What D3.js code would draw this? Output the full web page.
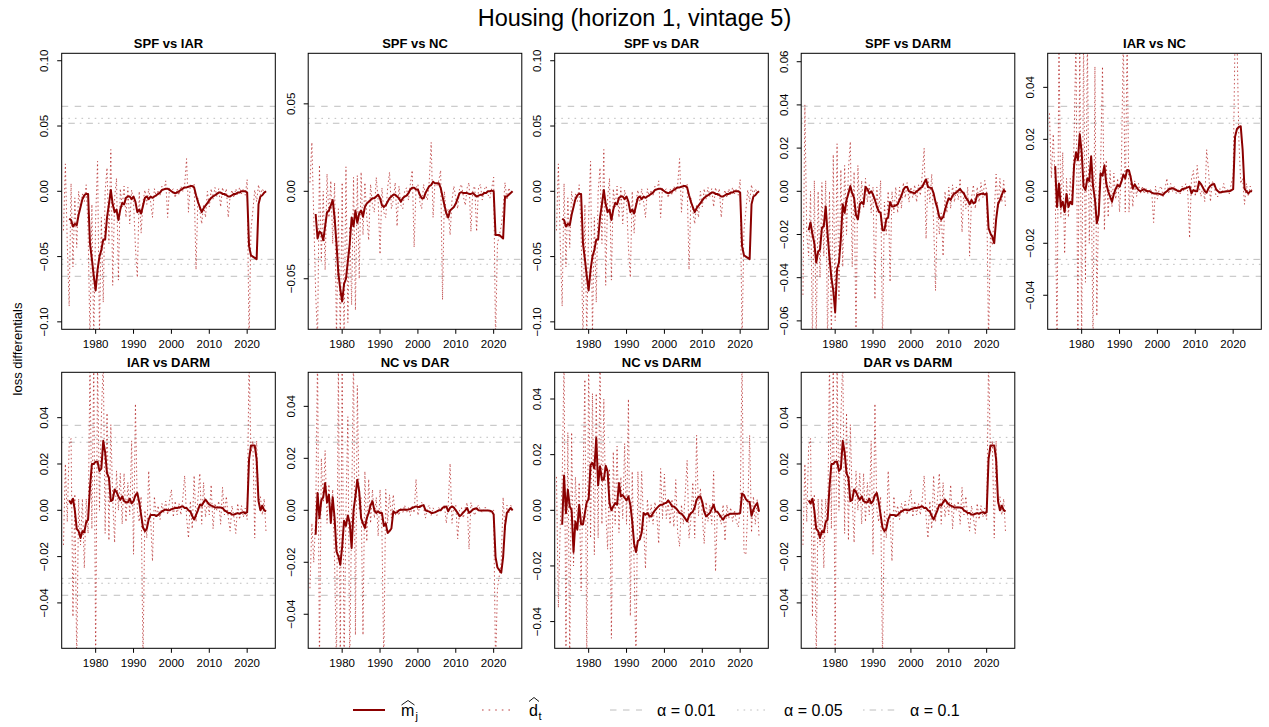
<!DOCTYPE html>
<html><head><meta charset="utf-8">
<script src="https://cdn.jsdelivr.net/npm/d3@7"></script>
<style>
body{margin:0;background:#fff}
svg{display:block;font-family:"Liberation Sans",Arial,Helvetica,sans-serif}
</style>
</head><body>
<svg id="c" width="1269" height="727"></svg>
<script>
// ---------------- DATA ----------------
const chartTitle = "Housing (horizon 1, vintage 5)";
const yLabel = "loss differentials";
const panelTitles = ["SPF vs IAR","SPF vs NC","SPF vs DAR","SPF vs DARM","IAR vs NC","IAR vs DARM","NC vs DAR","NC vs DARM","DAR vs DARM"];
// semiannual observation dates
const dates = d3.range(1971.5, 2025.01, 0.5);
const xTicks = [1980,1990,2000,2010,2020];
const xlim = [1971.03, 2027.43];
// symmetric y-limits (upper bound) per panel
const ylims = [0.1057,0.0789,0.1057,0.0639,0.0531,0.0596,0.0531,0.0496,0.0596];
const yTicks = [
  [-0.10,-0.05,0,0.05,0.10],
  [-0.05,0,0.05],
  [-0.10,-0.05,0,0.05,0.10],
  [-0.06,-0.04,-0.02,0,0.02,0.04,0.06],
  [-0.04,-0.02,0,0.02,0.04],
  [-0.04,-0.02,0,0.02,0.04],
  [-0.04,-0.02,0,0.02,0.04],
  [-0.04,-0.02,0,0.02,0.04],
  [-0.04,-0.02,0,0.02,0.04]
];
// critical values (alpha = 0.01, 0.05, 0.1)
const crit01 = [0.0651,0.0486,0.0651,0.0394,0.0327,0.0367,0.0327,0.0306,0.0367];
const crit05 = [0.0559,0.0417,0.0559,0.0338,0.0281,0.0315,0.0281,0.0262,0.0315];
const crit10 = [0.0521,0.0389,0.0521,0.0315,0.0262,0.0294,0.0262,0.0245,0.0294];

const d_SPF_IAR = [-0.030,0.021,-0.040,-0.088,0.006,-0.058,-0.005,-0.043,0.000,-0.012,
 -0.002,-0.008,0.005,-0.030,-0.115,-0.010,-0.115,-0.020,0.023,-0.110,
 -0.020,-0.085,0.000,0.018,-0.040,0.032,-0.072,-0.005,0.010,-0.068,
 0.002,-0.012,0.004,-0.020,0.003,-0.025,0.001,-0.008,-0.043,-0.066,
 0.000,-0.032,-0.008,0.001,-0.010,0.002,-0.008,-0.020,0.002,-0.004,
 0.001,-0.003,0.004,0.000,0.008,-0.020,0.003,0.000,0.002,-0.005,
 0.002,-0.003,0.004,0.000,0.005,0.025,-0.016,0.005,0.003,0.006,
 -0.060,-0.005,-0.015,-0.025,-0.010,-0.020,0.000,-0.012,0.002,-0.006,
 0.003,-0.004,0.002,-0.012,0.003,-0.004,0.002,-0.020,-0.004,0.001,
 -0.005,0.002,-0.003,0.003,-0.002,0.002,-0.003,0.009,-0.115,-0.030,
 -0.015,0.001,-0.008,0.005,-0.003,0.002,-0.001,0.000];
const m_SPF_IAR = [null,null,null,-0.021,-0.022,-0.027,-0.025,-0.026,-0.018,-0.012,
 -0.006,-0.003,-0.002,-0.002,-0.040,-0.052,-0.065,-0.076,-0.060,-0.050,
 -0.045,-0.037,-0.037,-0.020,-0.010,0.001,-0.010,-0.016,-0.014,-0.022,
 -0.014,-0.009,-0.010,-0.005,-0.004,-0.004,-0.006,-0.004,-0.008,-0.016,
 -0.014,-0.017,-0.011,-0.005,-0.004,-0.006,-0.004,-0.005,-0.004,-0.003,
 -0.002,-0.001,0.001,0.0015,0.002,0.002,0.001,0.000,-0.001,-0.0015,
 -0.001,0.000,0.001,0.002,0.003,0.003,0.0035,0.004,0.004,0.003,
 -0.003,-0.008,-0.012,-0.016,-0.013,-0.011,-0.009,-0.007,-0.005,-0.004,
 -0.003,-0.002,-0.001,-0.001,-0.002,-0.002,-0.003,-0.004,-0.004,-0.003,
 -0.002,-0.002,-0.001,-0.001,0.000,0.000,0.000,-0.001,-0.042,-0.049,
 -0.050,-0.051,-0.052,-0.010,-0.004,-0.003,-0.001,0.000];

const d_SPF_NC = [0.005,0.028,-0.015,-0.058,-0.085,0.015,-0.040,0.000,-0.045,0.010,
 -0.015,0.006,-0.030,0.005,-0.085,-0.010,-0.085,0.005,-0.085,0.014,
 -0.075,-0.020,-0.065,0.008,-0.068,0.009,-0.050,0.011,-0.025,0.005,
 -0.015,-0.028,0.004,-0.008,-0.012,0.008,-0.005,-0.036,0.002,-0.012,
 -0.015,0.002,0.011,-0.010,-0.005,0.005,-0.020,0.003,-0.008,-0.010,
 0.000,0.002,-0.005,0.004,0.012,-0.032,0.002,0.004,-0.006,-0.010,
 0.004,-0.002,-0.005,0.006,0.028,-0.015,0.005,0.003,0.006,0.012,
 -0.062,0.000,-0.015,-0.010,-0.025,-0.005,0.003,-0.004,-0.010,0.002,
 0.004,-0.003,-0.008,0.002,0.005,-0.023,0.001,0.003,-0.023,0.002,
 0.004,-0.005,0.001,0.003,-0.002,-0.004,0.002,0.008,-0.085,-0.030,
 -0.025,-0.020,-0.010,0.005,-0.005,0.002,-0.001,0.000];
const m_SPF_NC = [null,null,null,-0.013,-0.027,-0.023,-0.024,-0.028,-0.020,-0.012,
 -0.011,-0.008,-0.005,-0.015,-0.030,-0.047,-0.056,-0.063,-0.053,-0.050,
 -0.040,-0.030,-0.015,-0.020,-0.011,-0.018,-0.0126,-0.011,-0.0145,-0.009,
 -0.007,-0.006,-0.005,-0.004,-0.004,-0.003,-0.002,-0.004,-0.008,-0.009,
 -0.008,-0.006,-0.004,-0.003,-0.002,-0.002,-0.003,-0.004,-0.006,-0.004,
 -0.003,-0.0025,-0.001,0.001,0.002,0.002,0.001,0.001,-0.002,-0.004,
 -0.004,-0.001,0.001,0.003,0.0036,0.0055,0.0046,0.0046,0.0046,0.002,
 -0.003,-0.008,-0.0126,-0.015,-0.011,-0.010,-0.009,-0.007,-0.004,-0.001,
 -0.0005,-0.001,-0.001,-0.001,-0.0015,-0.0015,-0.001,-0.002,-0.003,-0.0025,
 -0.002,-0.002,-0.001,-0.001,0.000,0.000,0.0004,0.000,-0.025,-0.025,
 -0.025,-0.026,-0.027,-0.003,-0.003,-0.002,-0.001,0.000];

const d_SPF_DAR = [-0.030,0.021,-0.040,-0.088,0.006,-0.058,-0.005,-0.043,0.000,-0.012,
 -0.002,-0.008,0.005,-0.030,-0.115,-0.010,-0.115,-0.020,0.023,-0.110,
 -0.020,-0.085,0.000,0.018,-0.040,0.032,-0.072,-0.005,0.010,-0.068,
 0.002,-0.012,0.004,-0.020,0.003,-0.025,0.001,-0.008,-0.043,-0.066,
 0.000,-0.032,-0.008,0.001,-0.010,0.002,-0.008,-0.020,0.002,-0.004,
 0.001,-0.003,0.004,0.000,0.008,-0.020,0.003,0.000,0.002,-0.005,
 0.002,-0.003,0.004,0.000,0.005,0.025,-0.016,0.005,0.003,0.006,
 -0.060,-0.005,-0.015,-0.025,-0.010,-0.020,0.000,-0.012,0.002,-0.006,
 0.003,-0.004,0.002,-0.012,0.003,-0.004,0.002,-0.020,-0.004,0.001,
 -0.005,0.002,-0.003,0.003,-0.002,0.002,-0.003,0.009,-0.115,-0.030,
 -0.015,0.001,-0.008,0.005,-0.003,0.002,-0.001,0.000];
const m_SPF_DAR = [null,null,null,-0.021,-0.022,-0.027,-0.025,-0.026,-0.018,-0.012,
 -0.006,-0.003,-0.002,-0.002,-0.040,-0.052,-0.065,-0.076,-0.060,-0.050,
 -0.045,-0.037,-0.037,-0.020,-0.010,0.001,-0.010,-0.016,-0.014,-0.022,
 -0.014,-0.009,-0.010,-0.005,-0.004,-0.004,-0.006,-0.004,-0.008,-0.016,
 -0.014,-0.017,-0.011,-0.005,-0.004,-0.006,-0.004,-0.005,-0.004,-0.003,
 -0.002,-0.001,0.001,0.0015,0.002,0.002,0.001,0.000,-0.001,-0.0015,
 -0.001,0.000,0.001,0.002,0.003,0.003,0.0035,0.004,0.004,0.003,
 -0.003,-0.008,-0.012,-0.016,-0.013,-0.011,-0.009,-0.007,-0.005,-0.004,
 -0.003,-0.002,-0.001,-0.001,-0.002,-0.002,-0.003,-0.004,-0.004,-0.003,
 -0.002,-0.002,-0.001,-0.001,0.000,0.000,0.000,-0.001,-0.042,-0.049,
 -0.050,-0.051,-0.052,-0.010,-0.004,-0.003,-0.001,0.000];

const d_SPF_DARM = [-0.048,0.040,-0.020,-0.030,0.000,-0.070,0.005,-0.070,0.000,-0.040,
 0.004,-0.030,0.005,-0.070,0.000,-0.070,0.017,-0.060,0.022,-0.050,
 0.010,-0.035,0.012,-0.020,0.010,0.023,-0.035,0.009,-0.070,0.012,
 -0.010,0.005,-0.008,0.006,-0.005,0.003,-0.010,0.002,-0.050,0.002,
 -0.010,0.005,-0.070,-0.005,-0.020,0.000,-0.042,0.000,-0.010,0.002,
 -0.010,0.002,-0.008,0.004,-0.003,0.004,-0.005,0.002,-0.003,0.003,
 -0.005,0.003,-0.002,0.008,0.020,-0.022,0.006,-0.005,0.008,-0.015,
 -0.046,-0.005,-0.020,-0.010,-0.030,0.000,-0.010,0.002,-0.008,0.003,
 -0.005,0.002,-0.004,0.006,-0.019,0.000,-0.008,0.002,-0.030,-0.003,
 0.003,-0.008,0.002,-0.005,0.004,-0.003,0.005,0.000,-0.070,-0.020,
 -0.025,-0.010,0.008,-0.008,0.006,-0.005,0.005,-0.008];
const m_SPF_DARM = [null,null,null,-0.018,-0.0144,-0.020,-0.024,-0.033,-0.028,-0.027,
 -0.017,-0.016,-0.007,-0.020,-0.031,-0.040,-0.046,-0.056,-0.036,-0.033,
 -0.022,-0.006,-0.010,-0.004,-0.001,0.0025,-0.001,-0.003,-0.011,-0.013,
 -0.006,-0.005,-0.006,0.002,0.001,-0.001,0.000,-0.0015,-0.004,-0.007,
 -0.0094,-0.010,-0.018,-0.018,-0.013,-0.012,-0.005,-0.007,-0.007,-0.0065,
 -0.006,-0.004,-0.002,0.0006,0.002,0.002,0.000,-0.0003,-0.0006,-0.001,
 0.000,0.0006,0.0015,0.002,0.004,0.0055,0.002,0.0017,0.0014,-0.001,
 -0.005,-0.008,-0.012,-0.013,-0.012,-0.0087,-0.0056,-0.0032,-0.004,-0.002,
 -0.001,-0.0006,0.0003,0.001,-0.0002,-0.001,-0.003,-0.004,-0.006,-0.004,
 -0.0056,-0.005,-0.0017,-0.0015,-0.0012,-0.001,-0.0015,-0.001,-0.017,-0.0195,
 -0.021,-0.024,-0.013,-0.006,-0.004,-0.0017,0.0006,-0.0004];

const d_IAR_NC = [0.030,0.005,0.022,0.004,-0.060,0.060,-0.010,0.015,-0.024,0.005,
 -0.010,0.005,-0.005,0.020,0.060,-0.060,0.060,-0.060,0.060,-0.035,
 0.060,-0.020,0.010,-0.060,0.048,-0.048,0.000,0.010,0.048,-0.015,
 0.012,-0.010,0.008,-0.006,0.007,-0.003,0.005,-0.008,0.010,0.060,
 -0.008,0.060,-0.008,0.006,-0.006,0.004,-0.002,0.003,-0.001,0.002,
 -0.001,0.001,-0.001,0.001,0.000,-0.012,0.002,-0.003,0.001,0.002,
 -0.002,0.001,0.005,-0.001,0.003,0.000,0.002,-0.001,0.001,-0.001,
 0.002,0.000,0.003,0.000,-0.018,0.005,0.008,-0.002,0.010,0.002,
 -0.002,0.002,-0.004,0.016,0.008,-0.004,0.004,0.002,-0.002,-0.002,
 0.001,-0.001,0.003,0.000,0.001,-0.001,0.003,0.006,0.060,0.060,
 0.020,0.003,0.005,-0.005,0.003,-0.002,0.002,0.000];
const m_IAR_NC = [null,null,null,0.0097,-0.006,0.003,-0.006,-0.004,-0.008,-0.001,
 -0.006,-0.004,-0.005,0.010,0.015,0.012,0.022,0.015,0.0018,0.0005,
 0.005,0.004,0.0135,0.002,-0.003,-0.0123,-0.009,0.0069,0.006,0.010,
 0.003,0.000,-0.002,-0.004,-0.001,0.001,0.0024,0.0018,0.0037,0.0065,
 0.005,0.0082,0.008,0.005,0.001,0.0027,0.0015,0.0005,0.000,0.0005,
 0.0008,0.0002,0.000,0.000,-0.0005,-0.0008,-0.0008,-0.0008,-0.001,-0.0012,
 -0.0014,-0.0005,0.000,0.0008,0.001,0.0012,0.0008,0.0005,0.000,0.000,
 0.0008,0.001,0.0012,0.0015,0.0018,-0.0008,0.0005,0.000,0.000,0.0037,
 0.0028,0.0015,0.000,-0.0005,0.0012,0.0022,0.0026,0.0028,0.0008,0.000,
 -0.0005,-0.0003,-0.0002,-0.0001,0.000,0.000,0.0004,0.0008,0.021,0.024,
 0.0248,0.025,0.016,0.001,-0.0001,-0.0008,0.000,0.000];

const d_IAR_DARM = [-0.015,0.020,-0.005,0.028,0.031,-0.046,0.007,-0.065,0.005,-0.015,
 0.005,-0.025,0.005,-0.010,0.065,-0.008,0.065,-0.065,0.065,0.000,
 0.040,0.065,-0.010,0.042,-0.013,0.037,0.005,-0.014,0.017,0.000,
 0.016,-0.006,0.016,-0.005,0.012,-0.002,0.030,-0.019,0.046,0.000,
 -0.005,0.006,-0.065,0.000,-0.012,0.017,-0.003,-0.022,0.006,-0.003,
 0.002,-0.004,0.003,-0.001,0.004,-0.002,0.004,0.009,-0.003,0.004,
 -0.002,0.003,-0.002,0.005,0.015,-0.003,-0.012,0.004,-0.008,0.015,
 -0.005,0.005,0.016,-0.006,0.012,-0.003,0.004,-0.002,0.011,-0.008,
 0.003,0.000,0.004,-0.006,0.010,-0.002,0.006,-0.003,-0.009,0.002,
 -0.003,-0.010,0.003,-0.004,0.002,-0.003,0.001,-0.004,0.065,0.025,
 0.030,-0.012,0.030,0.003,0.006,-0.002,0.005,-0.010];
const m_IAR_DARM = [null,null,null,0.0043,0.003,0.005,0.000,-0.008,-0.009,-0.012,
 -0.009,-0.0095,-0.005,-0.004,0.010,0.020,0.020,0.021,0.021,0.017,
 0.018,0.030,0.025,0.016,0.014,0.004,0.0045,0.009,0.008,0.006,
 0.0045,0.006,0.004,0.0035,0.0035,0.005,0.003,0.004,0.0065,0.0075,
 0.0035,-0.002,-0.0075,-0.009,-0.008,-0.004,-0.002,-0.002,-0.002,-0.0025,
 -0.002,-0.0012,-0.0005,0.000,0.0003,0.000,0.000,0.0005,0.0007,0.001,
 0.001,0.0012,0.0015,0.0017,0.001,0.001,0.000,-0.0005,-0.0025,-0.004,
 -0.002,0.000,0.0024,0.002,0.0035,0.0046,0.0035,0.0025,0.002,0.0017,
 0.0012,0.0012,0.0012,0.0012,0.001,0.000,-0.0005,-0.0012,-0.0012,-0.0018,
 -0.0019,-0.0015,-0.0012,-0.0015,-0.001,-0.0008,-0.0014,-0.0008,0.022,0.028,
 0.028,0.028,0.022,0.004,0.000,0.002,0.000,-0.0005];

const d_NC_DAR = [-0.030,-0.005,-0.020,-0.003,0.060,-0.060,0.020,0.003,0.023,-0.005,
 0.010,-0.003,0.008,-0.020,-0.060,0.060,-0.060,0.060,-0.060,0.000,
 0.036,-0.060,0.000,0.060,-0.048,0.048,0.000,0.005,-0.048,0.015,
 -0.012,0.012,-0.005,0.008,-0.003,0.005,-0.010,0.008,-0.008,-0.060,
 0.008,-0.005,0.006,-0.003,0.006,-0.002,0.000,-0.002,0.001,-0.001,
 0.002,-0.001,0.001,-0.002,0.002,-0.001,0.012,-0.002,0.002,0.003,
 0.001,-0.003,0.001,0.002,-0.002,0.001,-0.001,-0.002,0.001,0.000,
 0.001,0.002,-0.005,0.002,0.018,-0.005,0.002,0.002,-0.011,0.000,
 0.001,-0.003,0.001,0.003,-0.015,0.003,0.000,-0.002,0.001,0.002,
 0.000,-0.001,0.001,0.001,0.000,-0.001,0.000,0.000,-0.060,-0.030,
 -0.025,-0.020,0.005,-0.008,0.002,-0.001,0.002,0.000];
const m_NC_DAR = [null,null,null,-0.0094,0.0067,-0.003,0.004,0.005,0.0105,0.003,
 0.006,-0.0049,0.005,-0.003,-0.0158,-0.0177,-0.021,-0.014,-0.004,-0.006,
 -0.002,-0.005,-0.0145,0.000,0.0054,0.0118,0.0073,-0.003,-0.005,-0.0068,
 -0.003,-0.001,0.002,0.0035,0.000,-0.001,-0.0004,-0.001,-0.001,-0.006,
 -0.005,-0.0087,-0.008,-0.007,-0.0004,-0.001,-0.0008,0.000,0.0002,0.0002,
 0.0003,0.0002,0.0003,0.0005,0.0009,0.0012,0.0015,0.0013,0.0013,0.0018,
 0.002,0.000,-0.0003,-0.0005,-0.001,-0.001,-0.0008,-0.0004,0.000,0.000,
 0.0009,0.0013,0.0015,-0.0004,0.001,0.0015,0.001,0.000,-0.001,-0.0023,
 -0.0017,-0.0008,0.000,0.0009,-0.001,-0.0005,0.0003,0.0006,0.0008,0.000,
 -0.0001,-0.0001,-0.0001,-0.0001,-0.0001,-0.0002,-0.0004,-0.0016,-0.018,-0.022,
 -0.023,-0.024,-0.018,-0.006,-0.001,0.000,0.0009,0.000];

const d_NC_DARM = [0.012,-0.035,-0.005,0.010,0.055,-0.055,0.028,-0.055,0.028,-0.020,
 0.012,-0.005,0.010,-0.029,0.010,0.047,-0.055,0.055,-0.010,0.042,
 -0.016,0.042,-0.010,0.055,-0.005,0.040,0.000,-0.014,0.015,-0.046,
 0.021,-0.005,0.023,-0.008,0.012,-0.003,0.024,-0.005,0.040,-0.038,
 0.014,-0.020,-0.055,0.014,-0.010,0.014,-0.005,-0.021,0.004,-0.004,
 0.002,-0.005,0.003,-0.002,-0.012,0.015,-0.003,0.013,-0.003,0.003,
 -0.005,0.004,-0.006,0.011,-0.008,-0.013,0.002,-0.005,0.006,0.018,
 -0.010,-0.003,0.010,-0.010,0.027,-0.002,0.008,-0.002,-0.012,0.003,
 -0.004,0.002,-0.005,0.014,-0.022,0.000,-0.002,-0.005,0.002,-0.011,
 0.002,-0.003,0.001,-0.004,0.000,-0.004,-0.006,0.000,0.055,-0.015,
 -0.016,0.000,0.027,-0.008,0.005,-0.005,0.004,-0.010];
const m_NC_DARM = [null,null,null,-0.0052,0.0125,-0.001,0.0074,0.0014,0.000,-0.015,
 -0.004,-0.007,0.002,-0.005,-0.005,-0.001,0.003,0.004,0.0164,0.017,
 0.015,0.026,0.009,0.0158,0.011,0.011,0.016,0.014,0.0026,0.000,
 0.0014,0.0026,0.002,0.0098,0.005,0.0055,0.0045,0.0035,0.005,0.002,
 -0.004,-0.012,-0.015,-0.011,-0.0105,-0.008,-0.001,-0.0016,-0.001,-0.002,
 -0.0022,-0.001,0.000,0.0008,0.0015,0.002,0.002,0.0025,0.0027,0.0036,
 0.0027,0.0014,0.0014,0.0008,0.000,-0.001,-0.0012,-0.002,-0.003,-0.004,
 -0.002,-0.001,-0.0005,0.001,0.0038,0.0048,0.005,0.003,-0.0005,-0.0022,
 -0.0016,-0.001,0.0005,0.002,-0.0004,-0.0005,-0.0015,-0.0025,-0.0034,-0.0022,
 -0.0018,-0.0015,-0.0012,-0.0012,-0.0012,-0.0012,-0.0012,-0.001,0.006,0.0055,
 0.004,0.0032,0.003,-0.002,0.0002,0.0017,0.0026,-0.0005];

const d_DAR_DARM = [-0.015,0.020,-0.005,0.028,0.031,-0.046,0.007,-0.065,0.005,-0.015,
 0.005,-0.025,0.005,-0.010,0.065,-0.008,0.065,-0.065,0.065,0.000,
 0.040,0.065,-0.010,0.042,-0.013,0.037,0.005,-0.014,0.017,0.000,
 0.016,-0.006,0.016,-0.005,0.012,-0.002,0.030,-0.019,0.046,0.000,
 -0.005,0.006,-0.065,0.000,-0.012,0.017,-0.003,-0.022,0.006,-0.003,
 0.002,-0.004,0.003,-0.001,0.004,-0.002,0.004,0.009,-0.003,0.004,
 -0.002,0.003,-0.002,0.005,0.015,-0.003,-0.012,0.004,-0.008,0.015,
 -0.005,0.005,0.016,-0.006,0.012,-0.003,0.004,-0.002,0.011,-0.008,
 0.003,0.000,0.004,-0.006,0.010,-0.002,0.006,-0.003,-0.009,0.002,
 -0.003,-0.010,0.003,-0.004,0.002,-0.003,0.001,-0.004,0.065,0.025,
 0.030,-0.012,0.030,0.003,0.006,-0.002,0.005,-0.010];
const m_DAR_DARM = [null,null,null,0.0043,0.003,0.005,0.000,-0.008,-0.009,-0.012,
 -0.009,-0.0095,-0.005,-0.004,0.010,0.020,0.020,0.021,0.021,0.017,
 0.018,0.030,0.025,0.016,0.014,0.004,0.0045,0.009,0.008,0.006,
 0.0045,0.006,0.004,0.0035,0.0035,0.005,0.003,0.004,0.0065,0.0075,
 0.0035,-0.002,-0.0075,-0.009,-0.008,-0.004,-0.002,-0.002,-0.002,-0.0025,
 -0.002,-0.0012,-0.0005,0.000,0.0003,0.000,0.000,0.0005,0.0007,0.001,
 0.001,0.0012,0.0015,0.0017,0.001,0.001,0.000,-0.0005,-0.0025,-0.004,
 -0.002,0.000,0.0024,0.002,0.0035,0.0046,0.0035,0.0025,0.002,0.0017,
 0.0012,0.0012,0.0012,0.0012,0.001,0.000,-0.0005,-0.0012,-0.0012,-0.0018,
 -0.0019,-0.0015,-0.0012,-0.0015,-0.001,-0.0008,-0.0014,-0.0008,0.022,0.028,
 0.028,0.028,0.022,0.004,0.000,0.002,0.000,-0.0005];

const dSeries = [d_SPF_IAR,d_SPF_NC,d_SPF_DAR,d_SPF_DARM,d_IAR_NC,d_IAR_DARM,d_NC_DAR,d_NC_DARM,d_DAR_DARM];
const mSeries = [m_SPF_IAR,m_SPF_NC,m_SPF_DAR,m_SPF_DARM,m_IAR_NC,m_IAR_DARM,m_NC_DAR,m_NC_DARM,m_DAR_DARM];
const legendAlpha = ["0.01","0.05","0.1"];

// ---------------- DRAWING ----------------
const RED = "#8b0000", DOT = "#b22222", GREY = "#bebebe";
const dashes = ["6.5,6.5", "1.6,5", "1.6,5,6.5,5"];
const svg = d3.select("#c");
const colLeft = [61.7, 308.2, 554.7, 801.2, 1047.7];
const rowTop = [53.3, 372.3];
const PW = 213.6, PH = 276;
const fmt = v => d3.format(".2f")(v).replace("-", "\u2212");

svg.append("text").attr("x", 634.5).attr("y", 25.5).attr("text-anchor","middle")
  .attr("font-size", 23.5).text(chartTitle);
svg.append("text").attr("transform","translate(22,349) rotate(-90)")
  .attr("text-anchor","middle").attr("font-size", 13).text(yLabel);

const defs = svg.append("defs");

panelTitles.forEach((title, i) => {
  const r = Math.floor(i / 5), c = i % 5;
  const L = colLeft[c], T = rowTop[r];
  const xs = d3.scaleLinear().domain(xlim).range([L, L + PW]);
  const ys = d3.scaleLinear().domain([-ylims[i], ylims[i]]).range([T + PH, T]);
  const cid = "clip" + i;
  defs.append("clipPath").attr("id", cid).append("rect")
    .attr("x", L).attr("y", T).attr("width", PW).attr("height", PH);
  const g = svg.append("g");
  const inner = g.append("g").attr("clip-path", `url(#${cid})`);

  // critical value lines
  [crit01[i], crit05[i], crit10[i]].forEach((cv, k) => {
    [cv, -cv].forEach(v => {
      inner.append("line").attr("x1", L).attr("x2", L + PW)
        .attr("y1", ys(v)).attr("y2", ys(v))
        .attr("stroke", GREY).attr("stroke-width", 1)
        .attr("stroke-dasharray", dashes[k]);
    });
  });

  // d_t (dotted)
  inner.append("path").datum(dSeries[i])
    .attr("d", d3.line().defined(v => v !== null).x((v, j) => xs(dates[j])).y(v => ys(v)))
    .attr("fill","none").attr("stroke", DOT).attr("stroke-width", 1)
    .attr("stroke-opacity", 0.75)
    .attr("stroke-dasharray", "1.5,2.6");

  // m_j (solid)
  inner.append("path").datum(mSeries[i])
    .attr("d", d3.line().defined(v => v !== null).x((v, j) => xs(dates[j])).y(v => ys(v)))
    .attr("fill","none").attr("stroke", RED).attr("stroke-width", 2)
    .attr("stroke-linejoin","round");

  // box
  g.append("rect").attr("x", L).attr("y", T).attr("width", PW).attr("height", PH)
    .attr("fill","none").attr("stroke","#000").attr("stroke-width", 1);

  // x axis
  xTicks.forEach(t => {
    g.append("line").attr("x1", xs(t)).attr("x2", xs(t)).attr("y1", T + PH).attr("y2", T + PH + 4.5)
      .attr("stroke","#000");
    g.append("text").attr("x", xs(t)).attr("y", T + PH + 19).attr("text-anchor","middle")
      .attr("font-size", 11.5).attr("fill","#000").text(t);
  });
  // y axis
  yTicks[i].forEach(t => {
    g.append("line").attr("x1", L - 4.5).attr("x2", L).attr("y1", ys(t)).attr("y2", ys(t))
      .attr("stroke","#000");
    g.append("text").attr("transform", `translate(${L - 13.5},${ys(t)}) rotate(-90)`)
      .attr("text-anchor","middle").attr("font-size", 11.5).attr("fill","#000").text(fmt(t));
  });
  // panel title
  g.append("text").attr("x", L + PW / 2).attr("y", T - 5.5).attr("text-anchor","middle")
    .attr("font-size", 13).attr("font-weight","bold").text(title);
});

// ---------------- LEGEND ----------------
const LY = 710;
const lg = svg.append("g");
const items = [
  {x: 353, stroke: RED, dash: null, w: 2, op: 1},
  {x: 482, stroke: DOT, dash: "1.6,5", w: 1.1, op: 0.85},
  {x: 610, stroke: GREY, dash: dashes[0], w: 1, op: 1},
  {x: 737, stroke: GREY, dash: dashes[1], w: 1, op: 1},
  {x: 863, stroke: GREY, dash: dashes[2], w: 1, op: 1}
];
items.forEach(it => {
  lg.append("line").attr("x1", it.x).attr("x2", it.x + 32).attr("y1", LY).attr("y2", LY)
    .attr("stroke", it.stroke).attr("stroke-width", it.w).attr("stroke-opacity", it.op)
    .attr("stroke-dasharray", it.dash);
});
// m-hat_j
lg.append("text").attr("x", 401).attr("y", 716).attr("font-size", 16).text("m");
lg.append("text").attr("x", 415.5).attr("y", 720).attr("font-size", 11).text("j");
lg.append("path").attr("d", "M401.5,705 L408,700.5 L414.5,705").attr("fill","none").attr("stroke","#000").attr("stroke-width",0.9);
// d-hat_t
lg.append("text").attr("x", 529).attr("y", 716).attr("font-size", 16).text("d");
lg.append("text").attr("x", 538.5).attr("y", 720).attr("font-size", 11).text("t");
lg.append("path").attr("d", "M529,701.5 L534,697.5 L539,701.5").attr("fill","none").attr("stroke","#000").attr("stroke-width",0.9);
legendAlpha.forEach((a, k) => {
  lg.append("text").attr("x", items[k + 2].x + 47).attr("y", 716).attr("font-size", 16)
    .text("\u03b1 = " + a);
});
</script>
</body></html>
